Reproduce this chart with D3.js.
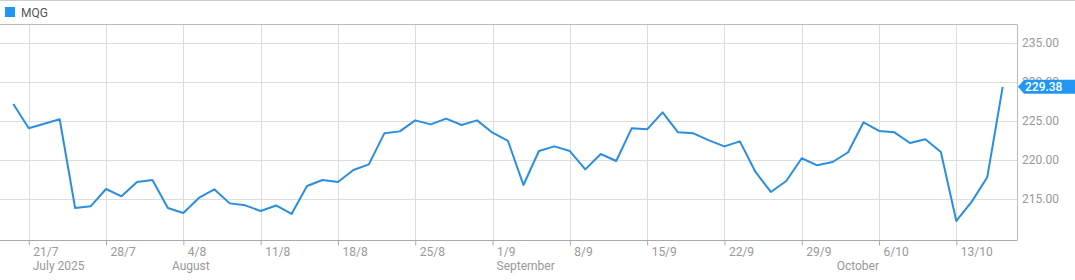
<!DOCTYPE html>
<html>
<head>
<meta charset="utf-8">
<script src="https://cdn.jsdelivr.net/npm/d3@7"></script>
<style>
  body { margin: 0; background: #fff; }
  svg { display: block; font-family: Roboto, "Noto Sans", sans-serif; }
</style>
</head>
<body>
<div id="chart"></div>
<script>
// trading days (Mon-Fri), MQG close
const dates = [
  "18/7",
  "21/7", "22/7", "23/7", "24/7", "25/7",
  "28/7", "29/7", "30/7", "31/7", "1/8",
  "4/8", "5/8", "6/8", "7/8", "8/8",
  "11/8", "12/8", "13/8", "14/8", "15/8",
  "18/8", "19/8", "20/8", "21/8", "22/8",
  "25/8", "26/8", "27/8", "28/8", "29/8",
  "1/9", "2/9", "3/9", "4/9", "5/9",
  "8/9", "9/9", "10/9", "11/9", "12/9",
  "15/9", "16/9", "17/9", "18/9", "19/9",
  "22/9", "23/9", "24/9", "25/9", "26/9",
  "29/9", "30/9", "1/10", "2/10", "3/10",
  "6/10", "7/10", "8/10", "9/10", "10/10",
  "13/10", "14/10", "15/10", "16/10"
];

const prices = [
  227.18,
  224.06, 224.64, 225.22, 213.85, 214.06,
  216.28, 215.34, 217.18, 217.44, 213.85,
  213.20, 215.13, 216.24, 214.44, 214.19,
  213.46, 214.17, 213.08, 216.67, 217.44,
  217.18, 218.72, 219.44, 223.42, 223.67,
  225.08, 224.57, 225.30, 224.49, 225.08,
  223.50, 222.44, 216.79, 221.15, 221.75,
  221.15, 218.80, 220.77, 219.87, 224.06,
  223.93, 226.11, 223.55, 223.42, 222.52,
  221.75, 222.39, 218.50, 215.90, 217.31,
  220.22, 219.32, 219.74, 220.99, 224.83,
  223.72, 223.55, 222.18, 222.65, 221.03,
  212.18, 214.66, 217.78, 229.38
];

const weekTicks = ["21/7", "28/7", "4/8", "11/8", "18/8", "25/8", "1/9", "8/9", "15/9", "22/9", "29/9", "6/10", "13/10"];
const monthLabels = [["21/7", "July 2025"], ["1/8", "August"], ["1/9", "September"], ["1/10", "October"]];
const yTicks = [215, 220, 225, 230, 235];
const seriesName = "MQG";

const W = 1075, H = 280;
const plot = { left: 0, right: 1017, top: 24, bottom: 240 };
const blue = "#2196f3";
const lineBlue = "#2b8ede";

const svg = d3.select("#chart").append("svg").attr("width", W).attr("height", H);

const x = d3.scaleLinear().domain([0, dates.length - 1]).range([13.3, 1002.7]);
const y = d3.scaleLinear().domain([215, 235]).range([199, 43]);

// top border
svg.append("line")
  .attr("x1", 0).attr("x2", W).attr("y1", 0.5).attr("y2", 0.5)
  .attr("stroke", "#ccc");

// legend
svg.append("rect").attr("x", 5).attr("y", 7).attr("width", 10).attr("height", 10).attr("fill", blue);
svg.append("text").attr("x", 21).attr("y", 16.5)
  .attr("fill", "#555").style("font-size", "12px").text(seriesName);

// horizontal grid
svg.append("g").selectAll("line").data(yTicks).join("line")
  .attr("x1", plot.left).attr("x2", plot.right)
  .attr("y1", d => Math.round(y(d)) + 0.5).attr("y2", d => Math.round(y(d)) + 0.5)
  .attr("stroke", "#ddd");

// vertical grid
const tickIdx = weekTicks.map(d => dates.indexOf(d));
svg.append("g").selectAll("line").data(tickIdx).join("line")
  .attr("x1", d => Math.round(x(d)) + 0.5).attr("x2", d => Math.round(x(d)) + 0.5)
  .attr("y1", plot.top).attr("y2", plot.bottom)
  .attr("stroke", "#ddd");

// plot frame (top + right)
svg.append("path")
  .attr("d", `M${plot.left},${plot.top + 0.5}H${plot.right + 0.5}V${plot.bottom}`)
  .attr("fill", "none").attr("stroke", "#bbb");

// x axis
const xAxis = svg.append("g")
  .attr("transform", `translate(0,${plot.bottom + 0.5})`)
  .call(d3.axisBottom(x).tickValues(tickIdx).tickSize(5).tickSizeOuter(0).tickFormat(i => dates[i]));
xAxis.select(".domain").attr("stroke", "#aaa").attr("d", `M${plot.left},0H${plot.right + 0.5}`);
xAxis.selectAll(".tick line").attr("stroke", "#aaa");
xAxis.selectAll(".tick text")
  .attr("text-anchor", "start").attr("x", 4).attr("y", 7)
  .attr("fill", "#999").style("font-size", "12px").style("font-family", "Roboto, sans-serif");

// month labels
svg.append("g").selectAll("text").data(monthLabels).join("text")
  .attr("x", d => x(dates.indexOf(d[0])) + 4)
  .attr("y", 270)
  .attr("fill", "#999").style("font-size", "12px")
  .text(d => d[1]);

// y axis on right
const yAxis = svg.append("g")
  .attr("transform", `translate(${plot.right},0)`)
  .call(d3.axisRight(y).tickValues(yTicks).tickSize(0).tickPadding(5).tickFormat(d3.format(".2f")));
yAxis.select(".domain").remove();
yAxis.selectAll(".tick text")
  .attr("fill", "#999").style("font-size", "12px").style("font-family", "Roboto, sans-serif");

// price line
svg.append("path")
  .datum(prices)
  .attr("fill", "none")
  .attr("stroke", lineBlue)
  .attr("stroke-width", 2)
  .attr("stroke-linejoin", "round")
  .attr("d", d3.line().x((d, i) => x(i)).y(d => y(d)));

// last price tag
const last = prices[prices.length - 1];
const ty = y(last);
svg.append("path")
  .attr("d", `M${plot.right + 1},${ty}L${plot.right + 7},${ty - 7}H${W}V${ty + 7}H${plot.right + 7}Z`)
  .attr("fill", blue);
svg.append("text")
  .attr("x", plot.right + 8).attr("y", ty + 4.3)
  .attr("fill", "#fff").style("font-size", "12px").style("font-weight", 500)
  .text(last.toFixed(2));
</script>
</body>
</html>
